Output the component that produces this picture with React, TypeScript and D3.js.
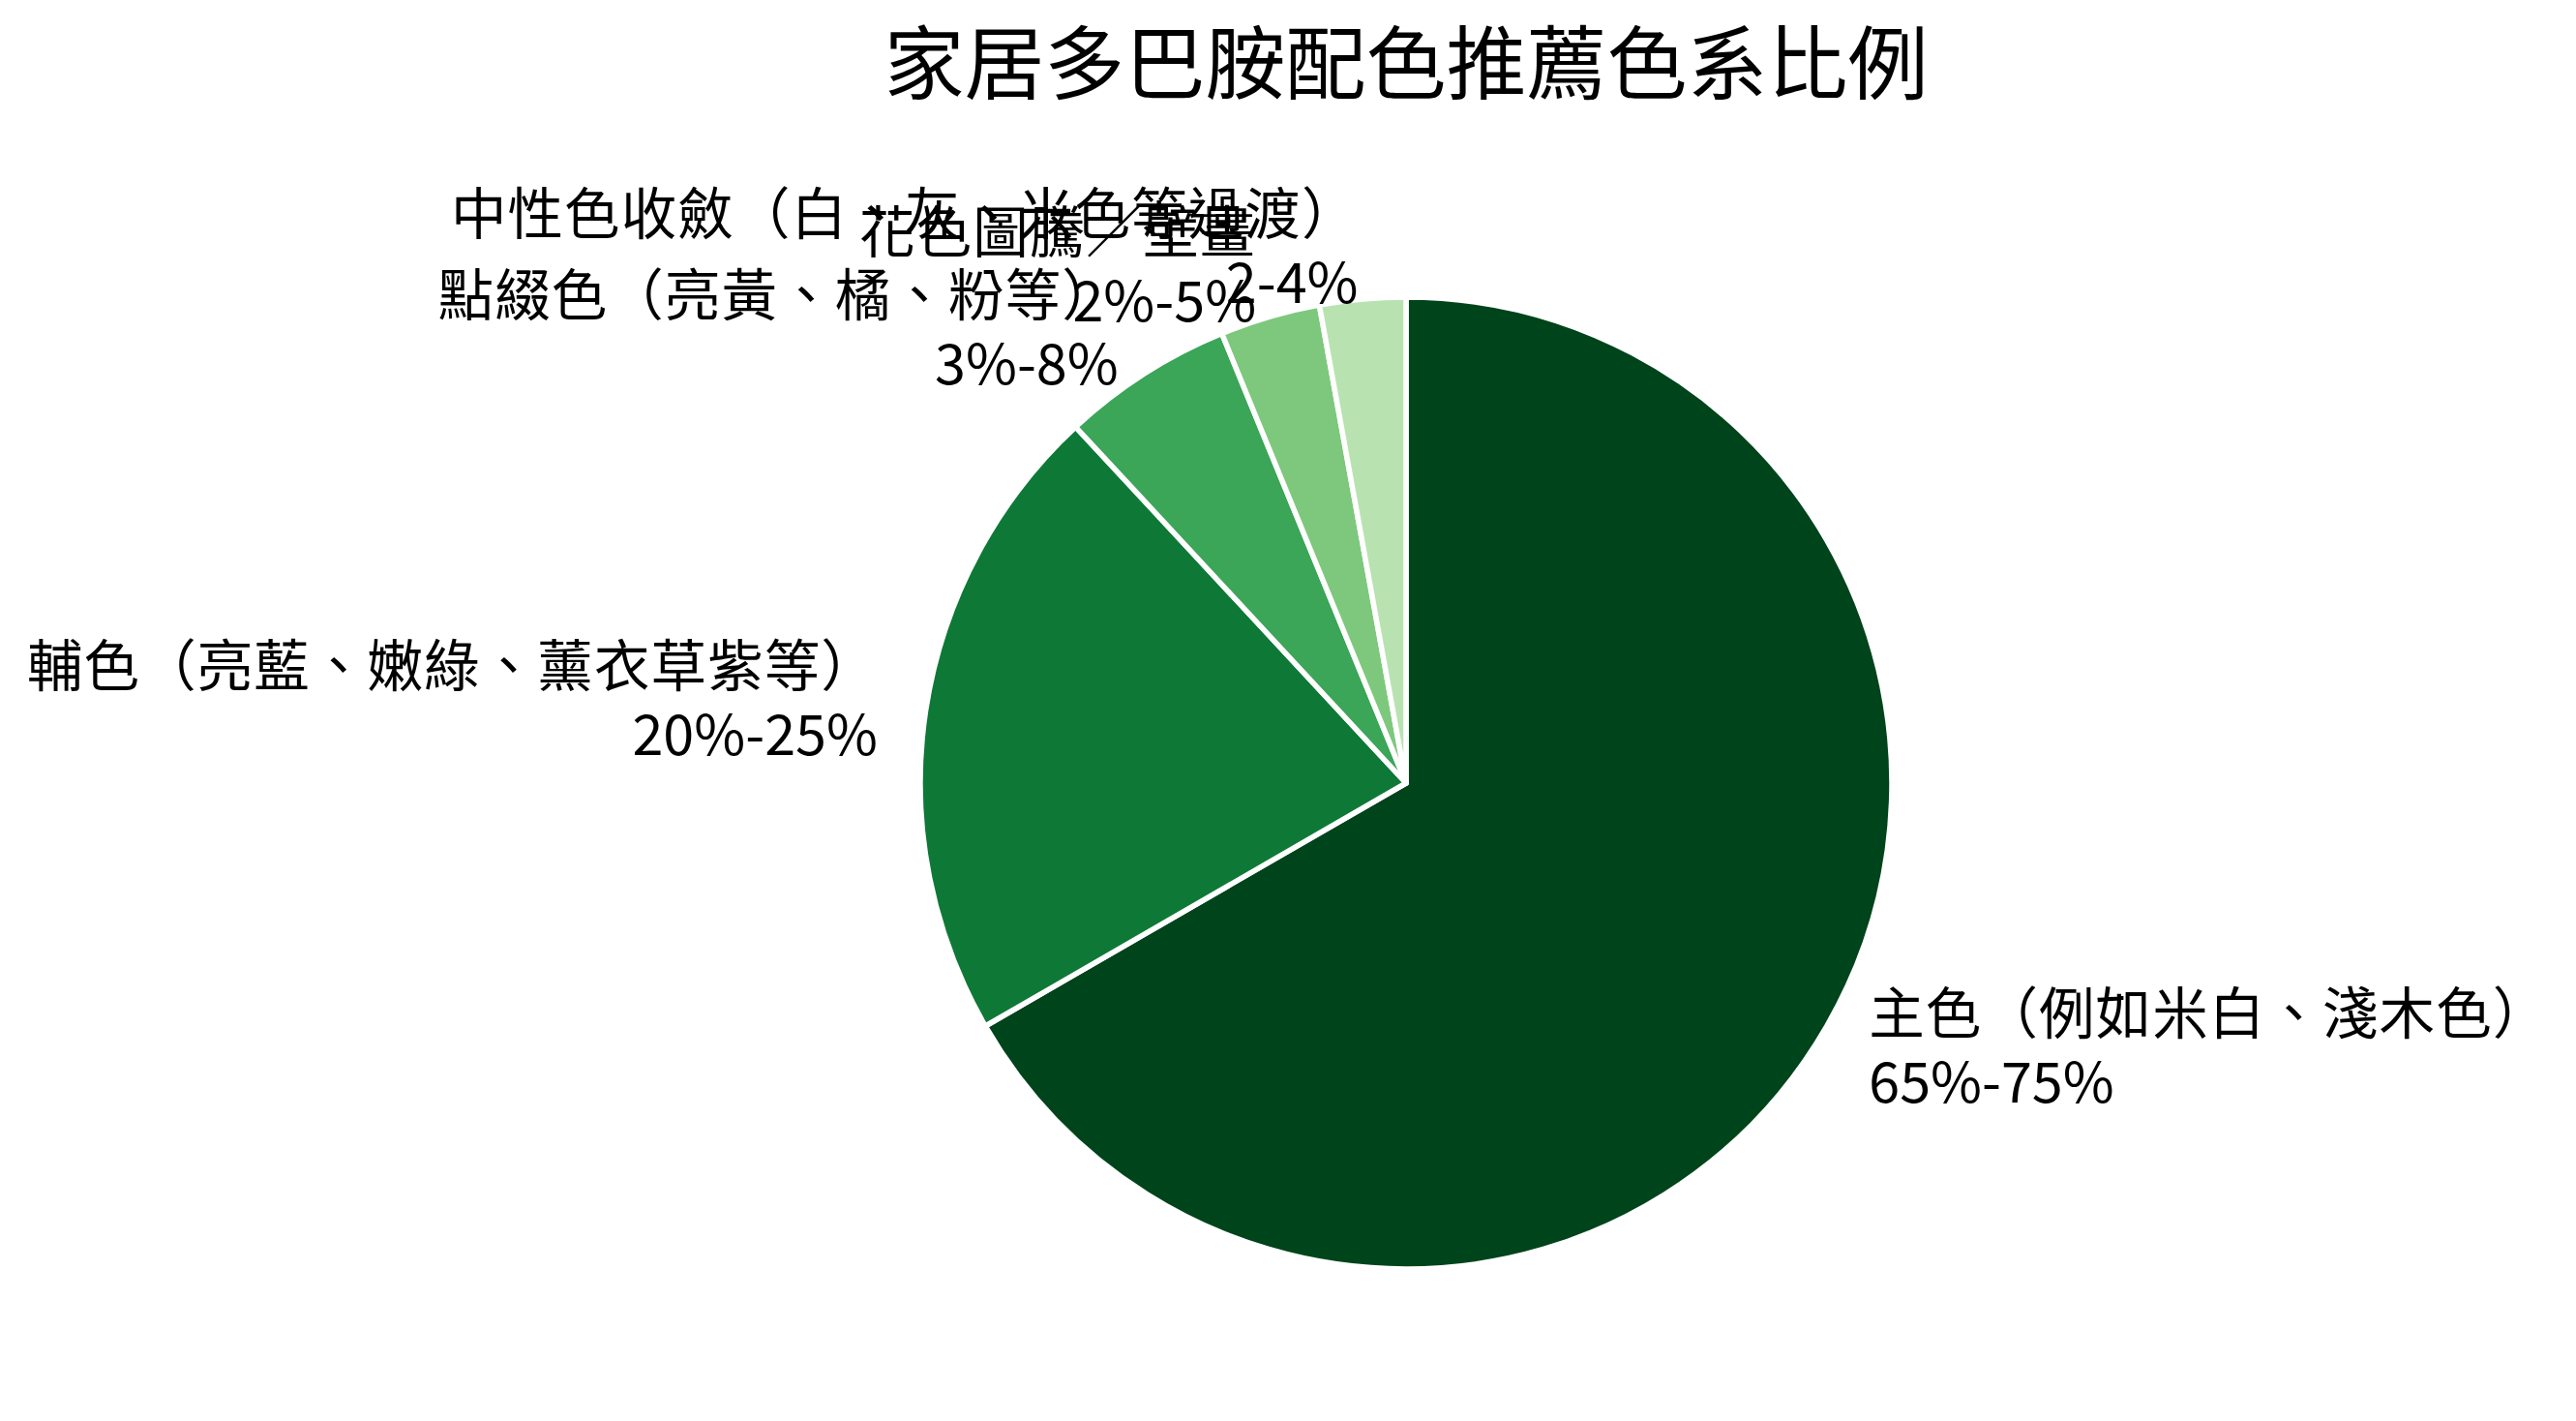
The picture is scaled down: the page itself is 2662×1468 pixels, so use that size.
import React from "react";
import * as d3 from "d3";

const categories = [
  "主色（例如米白、淺木色）",
  "輔色（亮藍、嫩綠、薰衣草紫等）",
  "點綴色（亮黃、橘、粉等）",
  "花色圖騰／壁畫",
  "中性色收斂（白、灰、米色等過渡）",
];
const rangeLabels = ["65%-75%", "20%-25%", "3%-8%", "2%-5%", "2-4%"];
const values = [70, 22.5, 6, 3.5, 3];
const colorPositions = [1.0, 0.825, 0.65, 0.475, 0.3];

const title = "家居多巴胺配色推薦色系比例";

const W = 2662;
const H = 1468;
const CX = 1453;
const CY = 809;
const R = 502;
const FONT = '"Noto Sans CJK TC", "Noto Sans CJK SC", "Noto Sans", sans-serif';

const greens = d3
  .scaleLinear<string>()
  .domain([0, 0.125, 0.25, 0.375, 0.5, 0.625, 0.75, 0.875, 1])
  .range(["#f7fcf5", "#e5f5e0", "#c7e9c0", "#a1d99b", "#74c476", "#41ab5d", "#238b45", "#006d2c", "#00441b"]);

export default function App() {
  const pie = d3.pie<number>().sort(null).startAngle(0).endAngle(2 * Math.PI);
  const arcs = pie(values);
  const arcGen = d3.arc<d3.PieArcDatum<number>>().innerRadius(0).outerRadius(R);
  const labelR = R * 1.1;
  const fs = 57.5;
  const lineGap = 71;
  const yShift = -7;

  return (
    <svg
      width={W}
      height={H}
      style={{ position: "absolute", left: 0, top: 0, background: "#fff" }}
      fontFamily={FONT}
    >
      <rect x={0} y={0} width={W} height={H} fill="#fff" />
      <text x={CX} y={60} textAnchor="middle" dominantBaseline="central" fontSize={83} fill="#000">
        {title}
      </text>
      <g transform={`translate(${CX},${CY})`}>
        {arcs.map((a, i) => (
          <path
            key={i}
            d={arcGen(a) || ""}
            fill={greens(colorPositions[i])}
            stroke="#fff"
            strokeWidth={5.5}
            strokeLinejoin="round"
          />
        ))}
        {arcs.map((a, i) => {
          const mid = (a.startAngle + a.endAngle) / 2;
          const x = Math.sin(mid) * labelR;
          const y = -Math.cos(mid) * labelR + yShift;
          const anchor = x > 0 ? "start" : "end";
          return (
            <g key={"l" + i}>
              <text
                x={x}
                y={y - lineGap / 2}
                fontSize={fs}
                fill="#000"
                textAnchor={anchor}
                dominantBaseline="central"
                letterSpacing={1.1}
              >
                {categories[i]}
              </text>
              <text
                x={x}
                y={y + lineGap / 2}
                fontSize={fs}
                fill="#000"
                textAnchor={anchor}
                dominantBaseline="central"
              >
                {rangeLabels[i]}
              </text>
            </g>
          );
        })}
      </g>
    </svg>
  );
}
